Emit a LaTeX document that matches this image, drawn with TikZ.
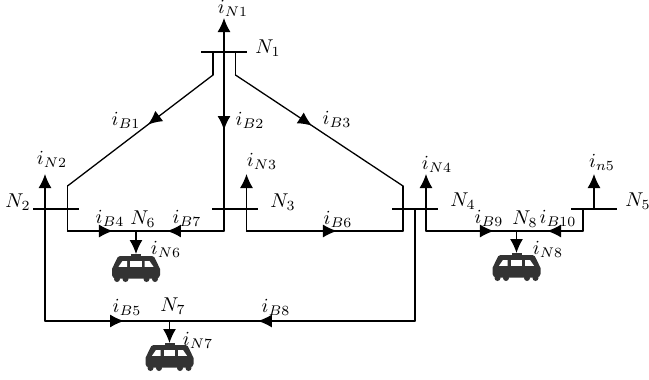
\documentclass[tikz,border=0pt]{standalone}
\usetikzlibrary{arrows.meta,decorations.markings}
\definecolor{traincol}{HTML}{333333}
\tikzset{
  wire/.style={line width=0.65pt,line cap=round,line join=miter,black},
  busbar/.style={line width=0.65pt,black},
  uptip/.style={wire,-{Latex[length=7pt,width=6.5pt]}},
  tipat/.style={postaction={decorate,decoration={markings,mark=at position #1 with {\arrow{Latex[length=7pt,width=6.5pt]}}}}},
  lab/.style={inner sep=0pt,outer sep=0pt,anchor=center},
  trainicon/.pic={
    \fill[traincol] (-5,0) rectangle (5,3);
    \fill[traincol] (-16,2) -- (16,2) .. controls (18,2) and (19,4) .. (20,6.5) -- (24,15) -- (24,21) .. controls (24,23) and (22,24.5) .. (20,24.5) -- (-20,24.5) .. controls (-22,24.5) and (-24,23) .. (-24,21) -- (-24,15) -- (-20,6.5) .. controls (-19,4) and (-18,2) .. (-16,2) -- cycle;
    \foreach \wx in {-19,-10.5,10.5,19} {\fill[traincol] (\wx,25) circle[radius=3];}
    \fill[white] (-13.5,7) -- (-9,7) -- (-9,12.8) -- (-17.5,12.8) -- cycle;
    \fill[white] (-6,7) rectangle (5.5,12.8);
    \fill[white] (8.5,7) -- (13.5,7) -- (17.5,12.8) -- (8.5,12.8) -- cycle;
  }
}
\begin{document}
\begin{tikzpicture}[x=.5pt,y=-.5pt]
\useasboundingbox (0,0) rectangle (649,380);
% junction coordinates
\coordinate (N1a) at (201,52); \coordinate (N1b) at (247,52);
\coordinate (N2a) at (33,209); \coordinate (N2b) at (79,209);
\coordinate (N3a) at (212,209); \coordinate (N3b) at (258,209);
\coordinate (N4a) at (392,209); \coordinate (N4b) at (438,209);
\coordinate (N5a) at (571,209); \coordinate (N5b) at (617,209);
\coordinate (top1) at (224,18); \coordinate (foot1) at (224,52);
\coordinate (L0) at (213,52); \coordinate (L1) at (213,75); \coordinate (L2) at (67.5,186); \coordinate (L3) at (67.5,231);
\coordinate (R0) at (235.5,52); \coordinate (R1) at (235.5,75); \coordinate (R2) at (403,186); \coordinate (R3) at (403,231);
\coordinate (M1) at (224,231);
\coordinate (J6) at (136,231); \coordinate (J6b) at (136,254);
\coordinate (J7) at (169.5,321); \coordinate (J7b) at (169.5,343);
\coordinate (J8) at (516.5,231); \coordinate (J8b) at (516.5,253);
\coordinate (C3) at (246.5,231); \coordinate (top3) at (246.5,174);
\coordinate (C2) at (45,321); \coordinate (top2) at (45,174);
\coordinate (C4) at (415,321); \coordinate (foot4) at (415,209);
\coordinate (C5) at (426,231); \coordinate (top4) at (426,174);
\coordinate (C6) at (583,231); \coordinate (foot5) at (583,209);
\coordinate (top5) at (594,174); \coordinate (base5) at (594,209);
% bus bars
\draw[busbar] (N1a) -- (N1b);
\draw[busbar] (N2a) -- (N2b);
\draw[busbar] (N3a) -- (N3b);
\draw[busbar] (N4a) -- (N4b);
\draw[busbar] (N5a) -- (N5b);
% plain wires
\draw[wire] (L0) -- (L1);
\draw[wire] (L2) -- (L3);
\draw[wire] (R0) -- (R1);
\draw[wire] (R2) -- (R3);
\draw[wire] (foot4) -- (C4);
\draw[wire] (foot5) -- (C6);
% wires with mid arrows
\draw[wire,tipat=.447] (L1) -- (L2);
\draw[wire,tipat=.436] (foot1) -- (M1);
\draw[wire,tipat=.457] (R1) -- (R2);
\draw[wire,tipat=.664] (L3) -- (J6);
\draw[wire,tipat=.648] (M1) -- (J6);
\draw[wire,tipat=.578] (C3) -- (R3);
\draw[wire,tipat=.635] (C2) -- (J7);
\draw[wire,tipat=.64] (C4) -- (J7);
\draw[wire,tipat=.751] (C5) -- (J8);
\draw[wire,tipat=.541] (C6) -- (J8);
% injection arrows
\draw[uptip] (foot1) -- (top1);
\draw[uptip] (C2) -- (top2);
\draw[uptip] (C3) -- (top3);
\draw[uptip] (C5) -- (top4);
\draw[uptip] (base5) -- (top5);
\draw[uptip] (J6) -- (J6b);
\draw[uptip] (J7) -- (J7b);
\draw[uptip] (J8) -- (J8b);
% trains
\pic at (136,254) {trainicon};
\pic at (169.5,343) {trainicon};
\pic at (516.5,253) {trainicon};
% labels
\node[lab] (lN1) at (268,48) {$N_1$};
\node[lab] (lN2) at (18,202) {$N_2$};
\node[lab] (lN3) at (283,202) {$N_3$};
\node[lab] (lN4) at (463,201) {$N_4$};
\node[lab] (lN5) at (638,201) {$N_5$};
\node[lab] (lN6) at (143,219) {$N_6$};
\node[lab] (lN7) at (173,306) {$N_7$};
\node[lab] (lN8) at (525,219) {$N_8$};
\node[lab] (iN1) at (233,8) {$i_{N1}$};
\node[lab] (iN2) at (52,159) {$i_{N2}$};
\node[lab] (iN3) at (262,161) {$i_{N3}$};
\node[lab] (iN4) at (437,164) {$i_{N4}$};
\node[lab] (in5) at (602,162) {$i_{n5}$};
\node[lab] (iN6) at (166,249) {$i_{N6}$};
\node[lab] (iN7) at (198,340) {$i_{N7}$};
\node[lab] (iN8) at (548,249) {$i_{N8}$};
\node[lab] (iB1) at (126,120) {$i_{B1}$};
\node[lab] (iB2) at (250,120) {$i_{B2}$};
\node[lab] (iB3) at (337,119) {$i_{B3}$};
\node[lab] (iB4) at (110,218) {$i_{B4}$};
\node[lab] (iB5) at (127,307) {$i_{B5}$};
\node[lab] (iB6) at (338,219) {$i_{B6}$};
\node[lab] (iB7) at (187,218) {$i_{B7}$};
\node[lab] (iB8) at (276,307) {$i_{B8}$};
\node[lab] (iB9) at (489,218) {$i_{B9}$};
\node[lab] (iB10) at (558,218) {$i_{B10}$};
\end{tikzpicture}
\end{document}
